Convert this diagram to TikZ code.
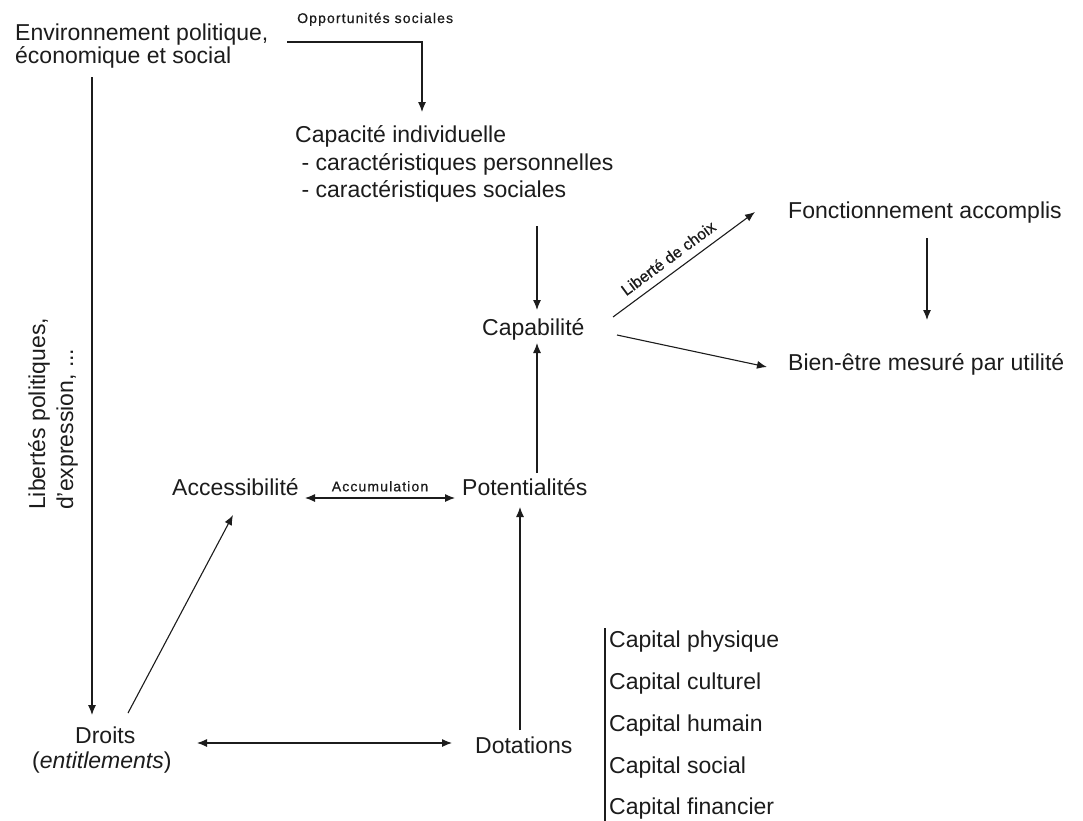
\documentclass[tikz,border=0pt]{standalone}
\usepackage{fontspec}
\setmainfont{Liberation Sans}
\newfontfamily\smallfnt[LetterSpace=8,FakeBold=0.6]{Liberation Sans}
\newfontfamily\slopefnt[FakeBold=0.6]{Liberation Sans}
\usetikzlibrary{arrows.meta}
\definecolor{ink}{HTML}{1C1C1C}
\tikzset{
  txt/.style={anchor=base west, inner sep=0pt, text=ink, font=\fontsize{23}{27}\selectfont},
  lbl/.style={inner sep=0pt, text=ink, font=\smallfnt\fontsize{14}{16}\selectfont},
  slbl/.style={inner sep=0pt, text=ink, font=\slopefnt\fontsize{16}{18}\selectfont},
  conn/.style={draw=ink, line width=1.1pt},
  arr/.style={conn, -{Latex[length=10pt,width=8pt]}},
  darr/.style={conn, {Latex[length=10pt,width=8pt]}-{Latex[length=10pt,width=8pt]}}
}
\begin{document}
\begin{tikzpicture}[x=1pt,y=-1pt]
\useasboundingbox[fill=white] (0,0) rectangle (1083,820);

% context and individual capacity
\node[txt] (env1) at (15,40) {Environnement politique,};
\node[txt] (env2) at (15,63) {économique et social};
\node[txt] (cap1) at (295,142) {Capacité individuelle};
\node[txt] (cap2) at (295,170) {\ - caractéristiques personnelles};
\node[txt] (cap3) at (295,197) {\ - caractéristiques sociales};

% capability and outcomes
\node[txt] (capab) at (482,335) {Capabilité};
\node[txt] (fonct) at (788,218) {Fonctionnement accomplis};
\node[txt] (bien)  at (788,370) {Bien-être mesuré par utilité};

% access, potential, rights, endowments
\node[txt] (access) at (172,495) {Accessibilité};
\node[txt] (poten)  at (462,495) {Potentialités};
\node[txt] (droits) at (75,743) {Droits};
\node[txt] (entit)  at (32,768) {(\textit{entitlements})};
\node[txt] (dot)    at (475,753) {Dotations};

% kinds of capital
\node[txt] (cp1) at (609,647) {Capital physique};
\node[txt] (cp2) at (609,689) {Capital culturel};
\node[txt] (cp3) at (609,731) {Capital humain};
\node[txt] (cp4) at (609,773) {Capital social};
\node[txt] (cp5) at (609,814) {Capital financier};
\draw[conn] ([shift={(-4,-19)}]cp1.base west) -- ([shift={(-4,8)}]cp5.base west);

% rotated freedoms label
\node[txt, rotate=90] (lib1) at (45,510) {Libertés politiques,};
\node[txt, rotate=90] (lib2) at (73,510) {d'expression, ...};

% connectors
\node[lbl, anchor=base west] (opp) at (297,23) {Opportunités sociales};
\draw[arr] ([shift={(272,2)}]env1.base west) -| ([shift={(127,-30)}]cap1.base west);
\draw[arr] ([shift={(77,14)}]env2.base west) -- ([shift={(17,-28)}]droits.base west);
\draw[arr] ([shift={(242,29)}]cap3.base west) -- ([shift={(55,-25)}]capab.base west);
\draw[arr] ([shift={(131,-18)}]capab.base west) -- ([shift={(-33,-6)}]fonct.base west)
  node[slbl, pos=0.45, sloped, above=8pt] {Liberté de choix};
\draw[arr] ([shift={(135,0)}]capab.base west) -- ([shift={(-21,-3)}]bien.base west);
\draw[arr] ([shift={(139,20)}]fonct.base west) -- ([shift={(139,-50)}]bien.base west);
\draw[arr] ([shift={(75,-22)}]poten.base west) -- ([shift={(55,8)}]capab.base west);
\draw[darr] ([shift={(133,3)}]access.base west) -- ([shift={(-7,3)}]poten.base west)
  node[lbl, midway, above=6pt] {Accumulation};
\draw[arr] ([shift={(53,-30)}]droits.base west) -- ([shift={(61,20)}]access.base west);
\draw[darr] ([shift={(122,0)}]droits.base west) -- ([shift={(-23,-10)}]dot.base west);
\draw[arr] ([shift={(45,-23)}]dot.base west) -- ([shift={(58,12)}]poten.base west);
\end{tikzpicture}
\end{document}
